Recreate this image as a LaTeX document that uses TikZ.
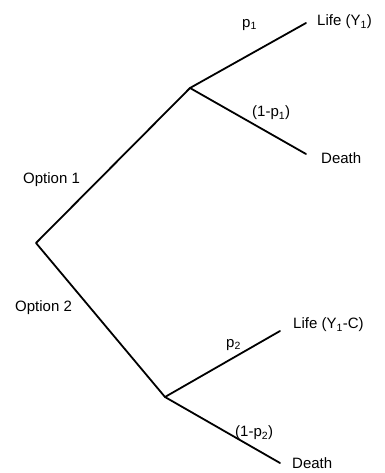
\documentclass[tikz,border=0pt]{standalone}
\usepackage{fontspec}
\setmainfont{Liberation Sans}
\tikzset{
  branch/.style={line width=1.8pt, line cap=round, line join=round},
  lbl/.style={anchor=west, inner sep=0pt, font=\fontsize{15}{17}\selectfont}
}
\begin{document}
\begin{tikzpicture}[x=1pt,y=-1pt]
\useasboundingbox (0,0) rectangle (384,473);
\coordinate (root) at (36,243);
\coordinate (n1) at (190,88);
\coordinate (n2) at (165,397);
\coordinate (l1) at (306,23);
\coordinate (d1) at (306,154);
\coordinate (l2) at (280,331);
\coordinate (d2) at (280,463);
\draw[branch] (n1) -- (root) -- (n2);
\draw[branch] (l1) -- (n1) -- (d1);
\draw[branch] (l2) -- (n2) -- (d2);
\node[lbl] (t1) at (317,22) {Life (Y\textsubscript{1})};
\node[lbl] (t2) at (321,158) {Death};
\node[lbl] (t3) at (242,25) {p\textsubscript{1}};
\node[lbl] (t4) at (252,113) {(1-p\textsubscript{1})};
\node[lbl] (t5) at (23,180) {Option 1};
\node[lbl] (t6) at (15,308) {Option 2};
\node[lbl] (t7) at (293,325) {Life (Y\textsubscript{1}-C)};
\node[lbl] (t8) at (226,345) {p\textsubscript{2}};
\node[lbl] (t9) at (235,433) {(1-p\textsubscript{2})};
\node[lbl] (t10) at (292,463) {Death};
\end{tikzpicture}
\end{document}
